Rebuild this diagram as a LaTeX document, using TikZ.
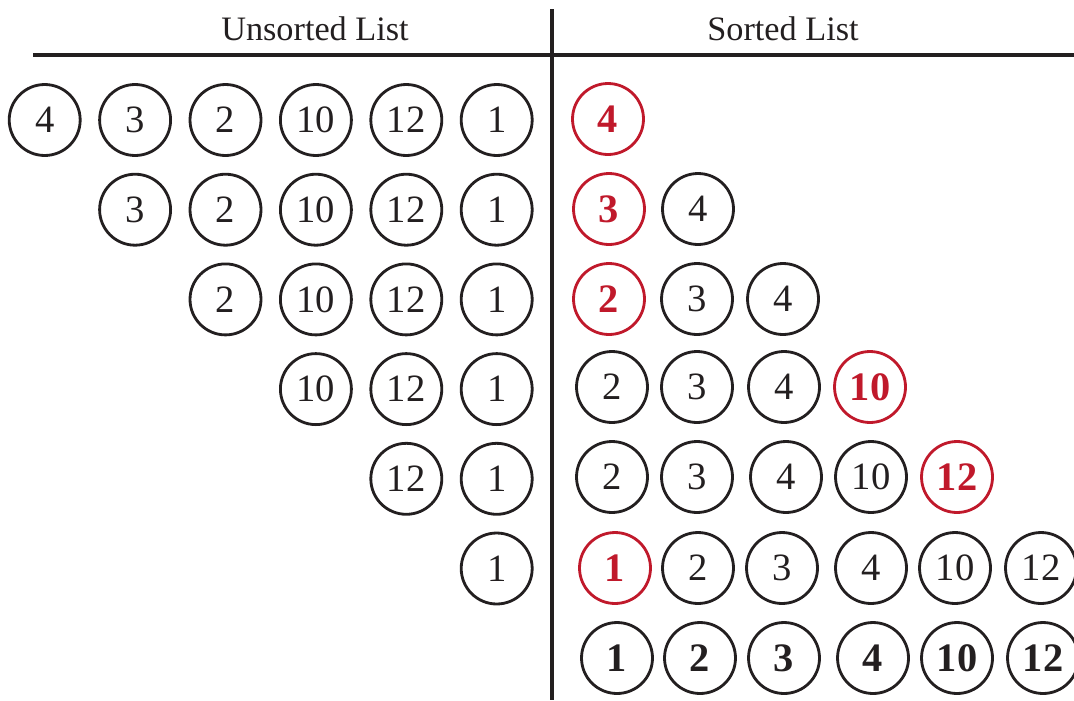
\documentclass[tikz,border=0pt]{standalone}
\usepackage{fontspec}
\setmainfont{Liberation Serif}
\definecolor{ink}{HTML}{231F20}
\definecolor{hot}{HTML}{C0192B}
\begin{document}
\begin{tikzpicture}[x=0.02cm,y=-0.02cm,
  ball/.style={circle,draw=ink,line width=1.6pt,minimum size=1.42cm,inner sep=0pt,
    text=ink,font=\fontsize{22pt}{23pt}\selectfont},
  newball/.style={ball,draw=hot,text=hot,font=\fontsize{23pt}{24pt}\selectfont\bfseries},
  finball/.style={ball,font=\fontsize{23pt}{24pt}\selectfont\bfseries},
  title/.style={anchor=base,text=ink,font=\fontsize{19.5pt}{20pt}\selectfont},
  rule/.style={draw=ink,line width=1.9pt}]
\useasboundingbox (0,0) rectangle (1074,700);
% headers
\node[title] (ut) at (315,40) {Unsorted List};
\node[title] (st) at (783,40) {Sorted List};
\coordinate (hl) at (33,55);
\coordinate (hr) at (1074,55);
\coordinate (vt) at (552,9);
\coordinate (vb) at (552,700);
\draw[rule] (hl) -- (hr);
\draw[rule] (vt) -- (vb);
% unsorted list
\foreach \v [count=\j] in {4,3,2,10,12,1} {
  \foreach \i in {1,...,\j} {
    \node[ball] (u\i-\j) at ({44.7+90.4*(\j-1)},{120+89.7*(\i-1)}) {\v};
  }
}
% sorted list
\node[newball] (s1-1) at (608,119) {4};
\node[newball] (s2-1) at (609,209) {3};
\node[ball] (s2-2) at (698,209) {4};
\node[newball] (s3-1) at (609,299) {2};
\node[ball] (s3-2) at (697,299) {3};
\node[ball] (s3-3) at (783,299) {4};
\node[ball] (s4-1) at (612,387) {2};
\node[ball] (s4-2) at (697,387) {3};
\node[ball] (s4-3) at (784,387) {4};
\node[newball] (s4-4) at (870,387) {10};
\node[ball] (s5-1) at (612,477) {2};
\node[ball] (s5-2) at (697,477) {3};
\node[ball] (s5-3) at (786,477) {4};
\node[ball] (s5-4) at (871,477) {10};
\node[newball] (s5-5) at (957,477) {12};
\node[newball] (s6-1) at (615,568) {1};
\node[ball] (s6-2) at (698,568) {2};
\node[ball] (s6-3) at (782,568) {3};
\node[ball] (s6-4) at (871,568) {4};
\node[ball] (s6-5) at (955,568) {10};
\node[ball] (s6-6) at (1041,568) {12};
\node[finball] (s7-1) at (617,658) {1};
\node[finball] (s7-2) at (700,658) {2};
\node[finball] (s7-3) at (784,658) {3};
\node[finball] (s7-4) at (873,658) {4};
\node[finball] (s7-5) at (957,658) {10};
\node[finball] (s7-6) at (1043,658) {12};
\end{tikzpicture}
\end{document}
